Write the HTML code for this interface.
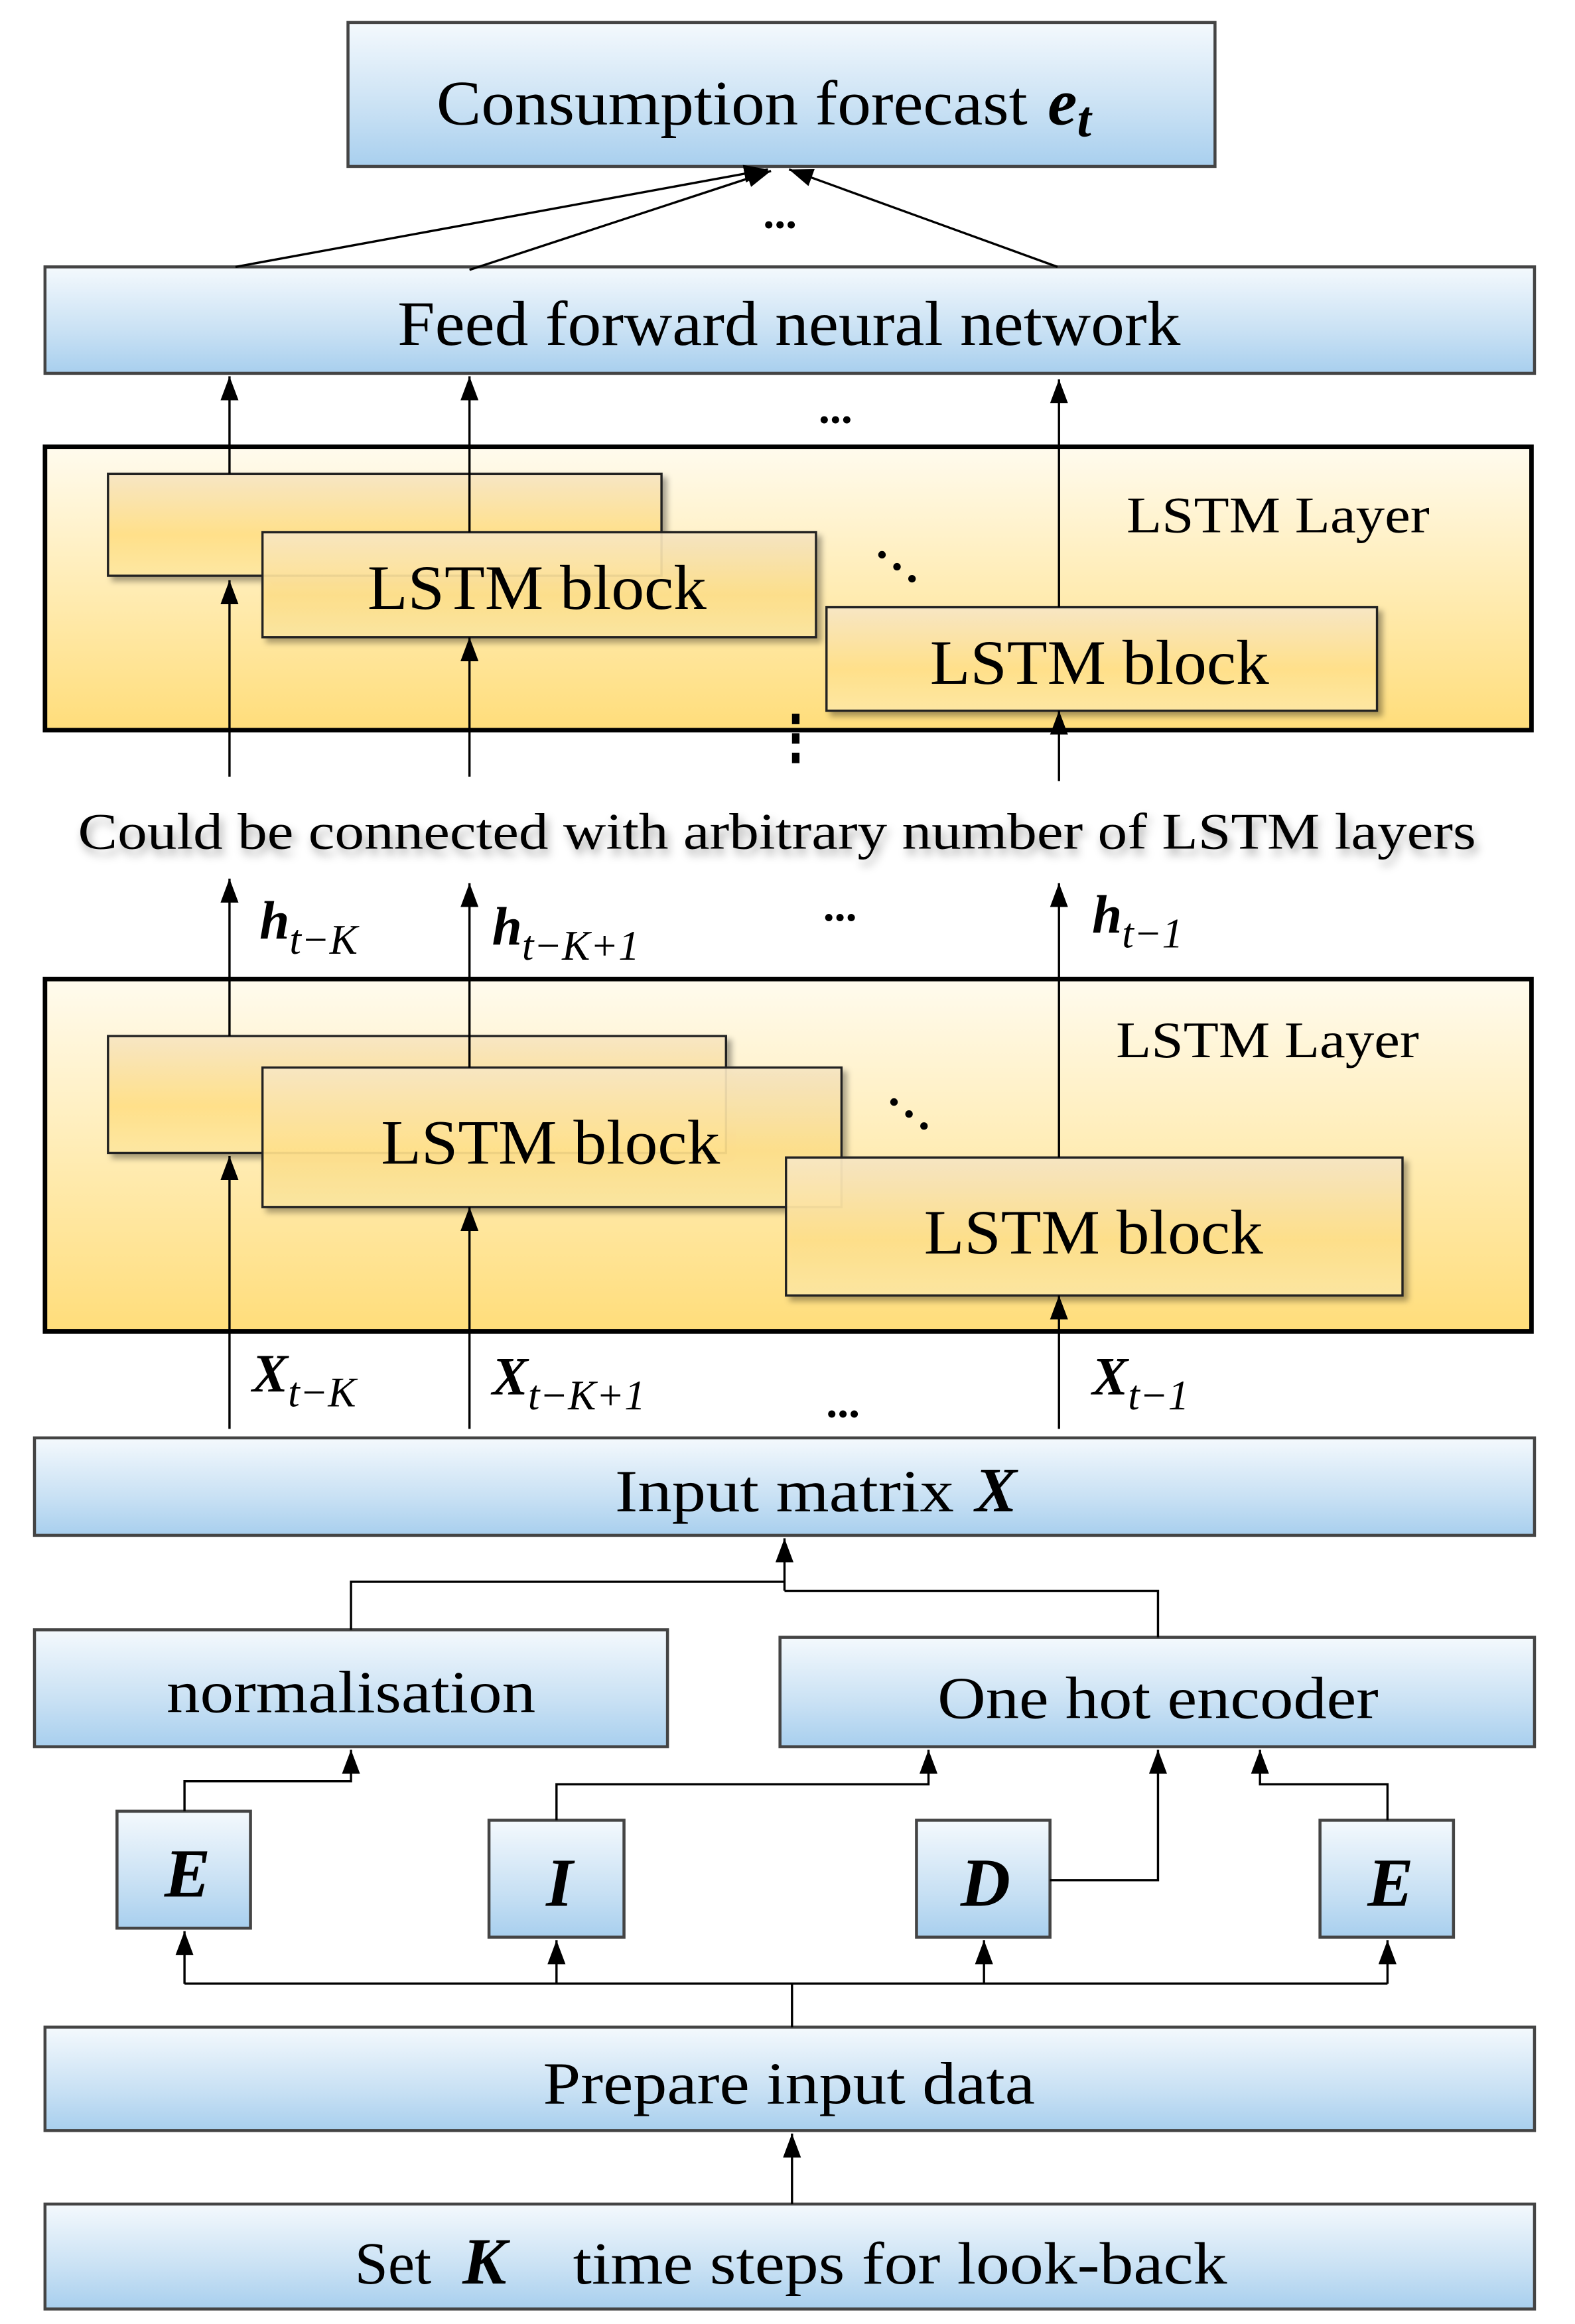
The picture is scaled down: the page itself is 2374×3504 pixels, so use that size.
<!DOCTYPE html>
<html><head><meta charset="utf-8"><style>
html,body{margin:0;padding:0;background:#fff;}
svg{display:block;}
text{font-family:"Liberation Serif",serif;fill:#000;}
</style></head><body>
<svg width="2374" height="3504" viewBox="0 0 1050 1550" preserveAspectRatio="none" xmlns="http://www.w3.org/2000/svg">
<defs>
<linearGradient id="blue" x1="0" y1="0" x2="0" y2="1">
<stop offset="0" stop-color="#f4f9fd"/><stop offset="0.6" stop-color="#c9e1f4"/><stop offset="1" stop-color="#a8cfee"/></linearGradient>
<linearGradient id="yel" x1="0" y1="0" x2="0" y2="1">
<stop offset="0" stop-color="#fffbee"/><stop offset="1" stop-color="#ffdd7a"/></linearGradient>
<linearGradient id="blk" x1="0" y1="0" x2="0" y2="1">
<stop offset="0" stop-color="#f7e6c4"/><stop offset="0.6" stop-color="#ffe08a"/><stop offset="1" stop-color="#fde7a2"/></linearGradient>
<marker id="a" markerWidth="16" markerHeight="12" refX="16" refY="6" orient="auto" markerUnits="userSpaceOnUse" viewBox="0 0 16 12">
<path d="M0,0 L16,6 L0,12 Z" fill="#000"/></marker>
<filter id="sh" x="-5%" y="-5%" width="115%" height="130%"><feDropShadow dx="3" dy="3" stdDeviation="2" flood-color="#000" flood-opacity="0.35"/></filter>
</defs>
<g stroke="#444" stroke-width="2">
<rect x="232" y="15" width="578" height="96" fill="url(#blue)"/>
<rect x="30" y="178" width="993" height="71" fill="url(#blue)"/>
<rect x="23" y="959" width="1000" height="65" fill="url(#blue)"/>
<rect x="23" y="1087" width="422" height="78" fill="url(#blue)"/>
<rect x="520" y="1092" width="503" height="73" fill="url(#blue)"/>
<rect x="78" y="1208" width="89" height="78" fill="url(#blue)"/>
<rect x="326" y="1214" width="90" height="78" fill="url(#blue)"/>
<rect x="611" y="1214" width="89" height="78" fill="url(#blue)"/>
<rect x="880" y="1214" width="89" height="78" fill="url(#blue)"/>
<rect x="30" y="1352" width="993" height="69" fill="url(#blue)"/>
<rect x="30" y="1470" width="993" height="70" fill="url(#blue)"/>
</g>
<g stroke="#000" stroke-width="3">
<rect x="30" y="298" width="991" height="189" fill="url(#yel)"/>
<rect x="30" y="653" width="991" height="235" fill="url(#yel)"/>
</g>
<g stroke="#222" stroke-width="1.5" filter="url(#sh)">
<rect x="72" y="316" width="369" height="68" fill="url(#blk)"/>
<rect x="175" y="355" width="369" height="70" fill="url(#blk)" fill-opacity="0.92"/>
<rect x="551" y="405" width="367" height="69" fill="url(#blk)"/>
<rect x="72" y="691" width="412" height="78" fill="url(#blk)"/>
<rect x="175" y="712" width="386" height="93" fill="url(#blk)" fill-opacity="0.92"/>
<rect x="524" y="772" width="411" height="92" fill="url(#blk)" fill-opacity="0.95"/>
</g>
<g stroke="#000" stroke-width="1.5" fill="none">
<line x1="157" y1="178" x2="512" y2="113" marker-end="url(#a)"/>
<line x1="313" y1="180" x2="514" y2="114" marker-end="url(#a)"/>
<line x1="705" y1="178" x2="526" y2="113" marker-end="url(#a)"/>
<line x1="153" y1="316" x2="153" y2="251" marker-end="url(#a)"/>
<line x1="313" y1="355" x2="313" y2="251" marker-end="url(#a)"/>
<line x1="706" y1="405" x2="706" y2="253" marker-end="url(#a)"/>
<line x1="153" y1="518" x2="153" y2="387" marker-end="url(#a)"/>
<line x1="313" y1="518" x2="313" y2="425" marker-end="url(#a)"/>
<line x1="706" y1="521" x2="706" y2="474" marker-end="url(#a)"/>
<line x1="153" y1="691" x2="153" y2="586" marker-end="url(#a)"/>
<line x1="313" y1="712" x2="313" y2="589" marker-end="url(#a)"/>
<line x1="706" y1="772" x2="706" y2="589" marker-end="url(#a)"/>
<line x1="153" y1="953" x2="153" y2="771" marker-end="url(#a)"/>
<line x1="313" y1="953" x2="313" y2="805" marker-end="url(#a)"/>
<line x1="706" y1="953" x2="706" y2="864" marker-end="url(#a)"/>
<polyline points="234,1087 234,1055 523,1055"/>
<polyline points="772,1092 772,1061 523,1061"/>
<line x1="523" y1="1061" x2="523" y2="1026" marker-end="url(#a)"/>
<polyline points="123,1208 123,1188 234,1188 234,1167" marker-end="url(#a)"/>
<polyline points="371,1214 371,1190 619,1190 619,1167" marker-end="url(#a)"/>
<polyline points="700,1254 772,1254 772,1167" marker-end="url(#a)"/>
<polyline points="925,1214 925,1190 840,1190 840,1167" marker-end="url(#a)"/>
<line x1="123" y1="1323" x2="925" y2="1323"/>
<line x1="528" y1="1352" x2="528" y2="1323"/>
<line x1="123" y1="1323" x2="123" y2="1288" marker-end="url(#a)"/>
<line x1="371" y1="1323" x2="371" y2="1294" marker-end="url(#a)"/>
<line x1="656" y1="1323" x2="656" y2="1294" marker-end="url(#a)"/>
<line x1="925" y1="1323" x2="925" y2="1294" marker-end="url(#a)"/>
<line x1="528" y1="1470" x2="528" y2="1423" marker-end="url(#a)"/>
</g>
<g text-anchor="middle">
<text x="488" y="83" font-size="42" textLength="394" lengthAdjust="spacingAndGlyphs">Consumption  forecast</text>
<text x="713" y="83" font-size="44" font-weight="bold" font-style="italic">e<tspan font-size="34" dy="8">t</tspan></text>
<text x="520" y="152" font-size="30" font-weight="bold">...</text>
<text x="526" y="230" font-size="42" textLength="522" lengthAdjust="spacingAndGlyphs">Feed  forward  neural  network</text>
<text x="557" y="282" font-size="30" font-weight="bold">...</text>
<text x="852" y="355" font-size="34" textLength="202" lengthAdjust="spacingAndGlyphs">LSTM Layer</text>
<text x="358" y="406" font-size="42" textLength="226" lengthAdjust="spacingAndGlyphs">LSTM block</text>
<text x="733" y="456" font-size="42" textLength="226" lengthAdjust="spacingAndGlyphs">LSTM block</text>
<text x="518" y="566" font-size="34" textLength="932" lengthAdjust="spacingAndGlyphs" style="filter:drop-shadow(2px 4px 3px rgba(0,0,0,0.35))">Could  be  connected  with  arbitrary  number  of  LSTM  layers</text>
<text x="560" y="614" font-size="30" font-weight="bold">...</text>
<text x="845" y="705" font-size="34" textLength="202" lengthAdjust="spacingAndGlyphs">LSTM Layer</text>
<text x="367" y="776" font-size="42" textLength="226" lengthAdjust="spacingAndGlyphs">LSTM block</text>
<text x="729" y="836" font-size="42" textLength="226" lengthAdjust="spacingAndGlyphs">LSTM block</text>
<text x="562" y="945" font-size="30" font-weight="bold">...</text>
<text x="523" y="1008" font-size="40" textLength="226" lengthAdjust="spacingAndGlyphs">Input matrix</text>
<text x="664" y="1008" font-size="42" font-weight="bold" font-style="italic">X</text>
<text x="234" y="1142" font-size="40" textLength="246" lengthAdjust="spacingAndGlyphs">normalisation</text>
<text x="772" y="1146" font-size="40" textLength="294" lengthAdjust="spacingAndGlyphs">One hot encoder</text>
<text x="125" y="1265" font-size="46" font-weight="bold" font-style="italic">E</text>
<text x="373" y="1271" font-size="46" font-weight="bold" font-style="italic">I</text>
<text x="657" y="1271" font-size="46" font-weight="bold" font-style="italic">D</text>
<text x="927" y="1271" font-size="46" font-weight="bold" font-style="italic">E</text>
<text x="526" y="1403" font-size="40" textLength="328" lengthAdjust="spacingAndGlyphs">Prepare input data</text>
<text x="262" y="1523" font-size="40">Set</text>
<text x="323" y="1523" font-size="44" font-weight="bold" font-style="italic">K</text>
<text x="600" y="1523" font-size="40" textLength="436" lengthAdjust="spacingAndGlyphs">time  steps  for  look-back</text>
</g>
<g font-size="36" font-weight="bold" font-style="italic">
<text x="173" y="626">h<tspan font-size="28" font-weight="normal" dy="10">t−K</tspan></text>
<text x="328" y="630">h<tspan font-size="28" font-weight="normal" dy="10">t−K+1</tspan></text>
<text x="728" y="622">h<tspan font-size="28" font-weight="normal" dy="10">t−1</tspan></text>
<text x="168" y="928">X<tspan font-size="28" font-weight="normal" dy="10">t−K</tspan></text>
<text x="328" y="930">X<tspan font-size="28" font-weight="normal" dy="10">t−K+1</tspan></text>
<text x="728" y="930">X<tspan font-size="28" font-weight="normal" dy="10">t−1</tspan></text>
</g>
<g fill="#000">
<circle cx="588" cy="370" r="2.5"/><circle cx="598" cy="378" r="2.5"/><circle cx="608" cy="386" r="2.5"/>
<circle cx="596" cy="735" r="2.5"/><circle cx="606" cy="743" r="2.5"/><circle cx="616" cy="751" r="2.5"/>
<rect x="528" y="476" width="5" height="7"/><rect x="528" y="489" width="5" height="7"/><rect x="528" y="502" width="5" height="7"/>
</g>
</svg>
</body></html>
